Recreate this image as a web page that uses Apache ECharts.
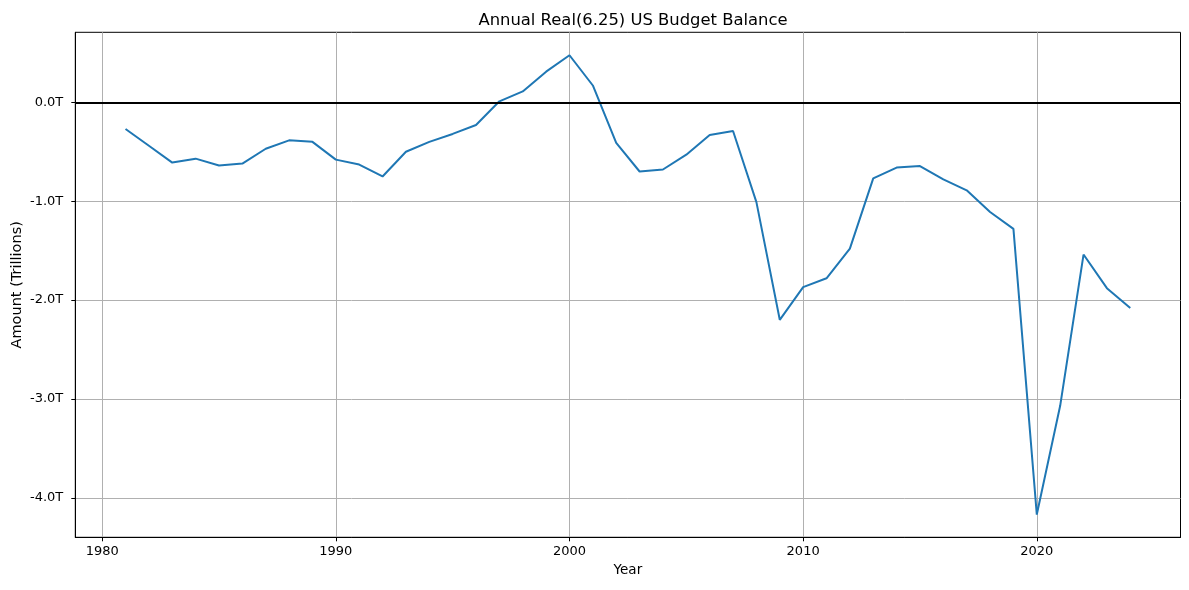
<!DOCTYPE html>
<html>
<head>
<meta charset="utf-8">
<script src="https://cdn.jsdelivr.net/npm/echarts@6/dist/echarts.min.js"></script>
<style>html,body{margin:0;padding:0;background:#fff}#c{width:1189px;height:590px}</style>
</head>
<body>
<div id="c"></div>
<script>
const years = [1981,1982,1983,1984,1985,1986,1987,1988,1989,1990,1991,1992,1993,1994,1995,1996,1997,1998,1999,2000,2001,2002,2003,2004,2005,2006,2007,2008,2009,2010,2011,2012,2013,2014,2015,2016,2017,2018,2019,2020,2021,2022,2023,2024];
const balance = [-0.27,-0.44,-0.61,-0.57,-0.64,-0.62,-0.47,-0.385,-0.40,-0.58,-0.63,-0.75,-0.50,-0.40,-0.32,-0.23,0.01,0.11,0.31,0.476,0.17,-0.41,-0.70,-0.68,-0.53,-0.33,-0.29,-1.01,-2.20,-1.87,-1.78,-1.48,-0.77,-0.66,-0.645,-0.78,-0.89,-1.11,-1.28,-4.17,-3.07,-1.54,-1.88,-2.08];
const xTicks = [1980,1990,2000,2010,2020];
const yTicks = [-4,-3,-2,-1,0];

const font = 'DejaVu Sans';
const chart = echarts.init(document.getElementById('c'), null, {renderer:'canvas'});
chart.setOption({
  animation:false,
  backgroundColor:'#fff',
  title:{text:'Annual Real(6.25) US Budget Balance',left:628,textAlign:'center',top:8,
    textStyle:{fontFamily:font,fontSize:16.4,fontWeight:'normal',color:'#000'}},
  grid:{left:75.3,top:32.3,right:8.5,bottom:52.7,show:true,borderColor:'#000',borderWidth:1,
    containLabel:false,outerBoundsMode:'none'},
  xAxis:{type:'value',min:1978.85,max:2026.15,
    name:'Year',nameLocation:'middle',nameGap:26,nameMoveOverlap:false,
    nameTextStyle:{fontFamily:font,fontSize:13.5,color:'#000'},
    axisLine:{show:true,onZero:false,lineStyle:{color:'#000',width:1}},
    axisTick:{show:true,length:4,customValues:xTicks,lineStyle:{color:'#000'}},
    axisLabel:{customValues:xTicks,margin:8,fontFamily:font,fontSize:13,color:'#000',formatter:v=>String(v)},
    splitLine:{show:true,lineStyle:{color:'#b0b0b0',width:1}}},
  yAxis:{type:'value',min:-4.4,max:0.708,
    name:'Amount (Trillions)',nameLocation:'middle',nameGap:51,nameMoveOverlap:false,
    nameTextStyle:{fontFamily:font,fontSize:14.5,color:'#000'},
    axisLine:{show:true,lineStyle:{color:'#000',width:1}},
    axisTick:{show:true,length:4,customValues:yTicks,lineStyle:{color:'#000'}},
    axisLabel:{customValues:yTicks,margin:12,fontFamily:font,fontSize:13,color:'#000',formatter:v=>v.toFixed(1)+'T'},
    splitLine:{show:true,lineStyle:{color:'#b0b0b0',width:1}}},
  series:[{type:'line',data:years.map((y,i)=>[y,balance[i]]),showSymbol:false,symbol:'none',
    lineStyle:{color:'#1f77b4',width:2},itemStyle:{color:'#1f77b4'},
    markLine:{silent:true,symbol:'none',label:{show:false},lineStyle:{color:'#000',width:2,type:'solid'},
      data:[{yAxis:0}]}}]
});
</script>
</body>
</html>
